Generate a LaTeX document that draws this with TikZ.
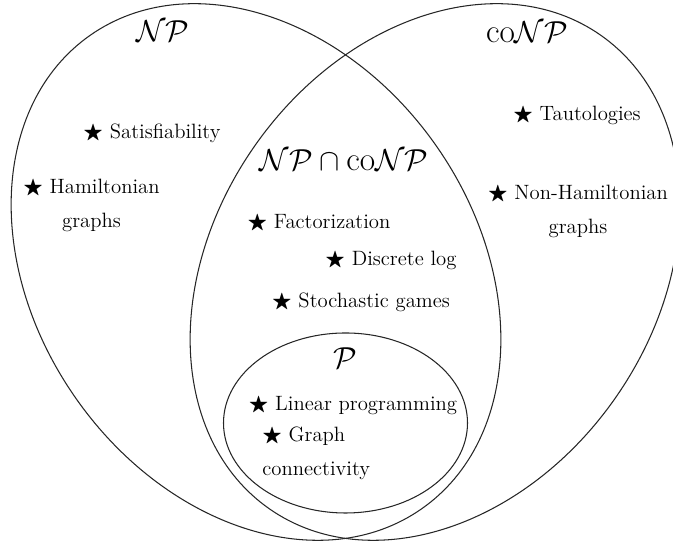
\documentclass[tikz,border=0pt]{standalone}
\usepackage{amsmath,amssymb}
\usepackage{tikz}
\tikzset{
  cls/.style={draw=black!85, line width=0.6pt},
  setlbl/.style={font=\fontsize{19}{22}\selectfont, inner sep=0pt},
  item/.style={font=\fontsize{11.8}{19.3}\selectfont, align=center, inner sep=0pt},
}
\newcommand{\st}{$\bigstar$~}

\begin{document}
\begin{tikzpicture}[x=0.02cm,y=0.02cm]
\useasboundingbox (0,0) rectangle (673,546);
% the three classes
\draw[cls, rotate around={35:(256,274)}] (256,274) ellipse [x radius=220, y radius=289];
\draw[cls, rotate around={-35:(435,274)}] (435,274) ellipse [x radius=220, y radius=289];
\draw[cls] (345.5,123) ellipse [x radius=122, y radius=90];
% class names
\node[setlbl] (np) at (163,515) {$\mathcal{NP}$};
\node[setlbl] (conp) at (527,514) {co$\mathcal{NP}$};
\node[setlbl] (cap) at (344,386) {$\mathcal{NP}\cap{}$co$\mathcal{NP}$};
\node[setlbl] (p) at (345,188) {$\mathcal{P}$};
% problems
\node[item] (sat) at (152,413) {\st Satisfiability};
\node[item] (ham) at (91.5,341) {\st Hamiltonian\\graphs};
\node[item] (fac) at (319,323) {\st Factorization};
\node[item] (dlog) at (391,286) {\st Discrete log};
\node[item] (stoch) at (361,244) {\st Stochastic games};
\node[item] (taut) at (577,431) {\st Tautologies};
\node[item] (nham) at (578,335) {\st Non-Hamiltonian\\graphs};
\node[item] (lp) at (353,141) {\st Linear programming};
\node[item, align=left, anchor=west] (conn) at (262,93) {\st Graph\\connectivity};
\end{tikzpicture}
\end{document}
